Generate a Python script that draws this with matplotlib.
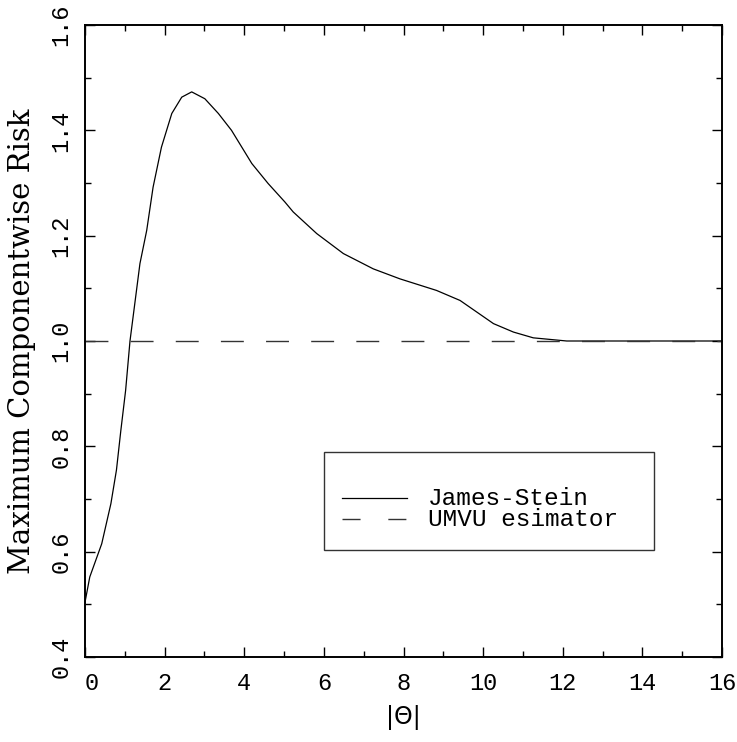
import matplotlib
matplotlib.use("Agg")
import matplotlib.pyplot as plt
from matplotlib.patches import Rectangle
from matplotlib.ticker import MultipleLocator

# values
theta = [0.0, 0.12, 0.42, 0.65, 0.79, 0.90, 1.02, 1.13, 1.38, 1.55, 1.71, 1.92,
         2.18, 2.43, 2.68, 3.01, 3.35, 3.68, 4.19, 4.60, 5.02, 5.23, 5.82, 6.49,
         7.24, 7.91, 8.83, 9.42, 9.84, 10.26, 10.76, 11.26, 11.68, 12.1, 13.0,
         14.0, 15.0, 16.0]
js_risk = [0.504, 0.552, 0.615, 0.691, 0.755, 0.830, 0.906, 1.000, 1.147, 1.210,
           1.292, 1.368, 1.432, 1.463, 1.473, 1.460, 1.432, 1.400, 1.337, 1.299,
           1.264, 1.245, 1.204, 1.166, 1.137, 1.118, 1.096, 1.077, 1.055, 1.033,
           1.017, 1.006, 1.003, 1.000, 1.000, 1.000, 1.000, 1.000]
umvu_x = [0.0, 16.0]
umvu_risk = [1.0, 1.0]
xticks = [0, 2, 4, 6, 8, 10, 12, 14, 16]
yticks = [0.4, 0.6, 0.8, 1.0, 1.2, 1.4, 1.6]
labels = ["James-Stein", "UMVU esimator"]

MONO = "Liberation Mono"

fig = plt.figure(figsize=(7.37, 7.42), dpi=100)
ax = fig.add_axes([85 / 737, 85 / 742, 637 / 737, 632 / 742])

ax.plot(theta, js_risk, color="black", lw=0.9)
ax.plot(umvu_x, umvu_risk, color="#333333", lw=1.0, dashes=(16.5, 16))

ax.set_xticks(xticks)
ax.set_xticklabels([str(v) for v in xticks])
ax.set_yticks(yticks)
ax.set_yticklabels([f"{v:.1f}" for v in yticks])
ax.xaxis.set_minor_locator(MultipleLocator(1))
ax.yaxis.set_minor_locator(MultipleLocator(0.1))
ax.set_xlim(0, 16)
ax.set_ylim(0.4, 1.6)

for s in ax.spines.values():
    s.set_linewidth(1.4)
ax.tick_params(which="both", direction="in", top=True, right=True, width=1.0,
               labelsize=17, labelfontfamily=MONO)
ax.tick_params(which="major", length=7)
ax.tick_params(which="minor", length=4.3)
ax.tick_params(axis="x", pad=11)
ax.tick_params(axis="y", pad=9, labelrotation=90)

ax.get_xticklabels()[0].set_ha("left")
for lab in ax.get_yticklabels():
    lab.set_va("center")

ax.set_ylabel("Maximum Componentwise Risk", family="DejaVu Serif", fontsize=21,
              va="center")
ax.yaxis.set_label_coords(-0.099, 0.5)
ax.set_xlabel("|\u0398|", family="DejaVu Sans", fontsize=17, va="center")
ax.xaxis.set_label_coords(0.5, -0.0965)

# legend box, drawn by hand to match the reference spacing
ax.add_patch(Rectangle((0.375, 0.1693), 0.518, 0.1551, transform=ax.transAxes,
                       fill=False, lw=1.0, ec="#333333"))
ax.plot([0.4035, 0.5055], [0.2516, 0.2516], transform=ax.transAxes,
        color="black", lw=0.9)
ax.plot([0.4035, 0.5055], [0.2184, 0.2184], transform=ax.transAxes,
        color="#333333", lw=1.0, dashes=(13, 20))
ax.text(0.5385, 0.2405, labels[0], transform=ax.transAxes, va="baseline",
        family=MONO, fontsize=17.6)
ax.text(0.5385, 0.2073, labels[1], transform=ax.transAxes, va="baseline",
        family=MONO, fontsize=17.6)

fig.savefig("out.png", dpi=100, facecolor="white")
